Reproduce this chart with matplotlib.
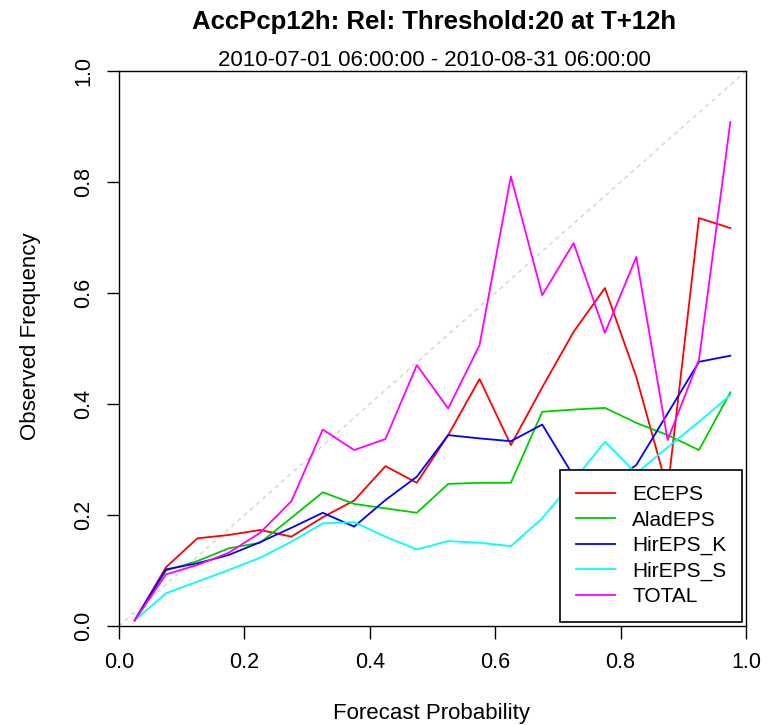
import matplotlib
matplotlib.use('Agg')
import matplotlib.pyplot as plt

# bin centres of forecast probability
prob = [0.025, 0.075, 0.125, 0.175, 0.225, 0.275, 0.325, 0.375, 0.425, 0.475,
        0.525, 0.575, 0.625, 0.675, 0.725, 0.775, 0.825, 0.875, 0.925, 0.975]

eceps = [0.010, 0.106, 0.158, 0.164, 0.173, 0.161, 0.196, 0.226, 0.288, 0.258,
         0.344, 0.445, 0.326, 0.430, 0.530, 0.609, 0.449, 0.245, 0.735, 0.717]
aladeps = [0.010, 0.100, 0.117, 0.140, 0.150, 0.195, 0.241, 0.220, 0.212, 0.204,
           0.256, 0.258, 0.258, 0.386, 0.390, 0.393, 0.366, 0.344, 0.317, 0.421]
hireps_k = [0.010, 0.102, 0.113, 0.128, 0.151, 0.177, 0.204, 0.179, 0.227, 0.269,
            0.344, 0.338, 0.333, 0.363, 0.270, 0.250, 0.290, 0.383, 0.476, 0.487]
hireps_s = [0.010, 0.059, 0.080, 0.101, 0.123, 0.152, 0.185, 0.187, 0.161, 0.138,
            0.153, 0.150, 0.144, 0.194, 0.262, 0.332, 0.275, 0.322, 0.368, 0.416]
total = [0.010, 0.093, 0.110, 0.132, 0.168, 0.225, 0.354, 0.317, 0.337, 0.470,
         0.392, 0.506, 0.810, 0.596, 0.690, 0.528, 0.665, 0.335, 0.480, 0.908]

series = [('ECEPS', eceps, '#FF0000'),
          ('AladEPS', aladeps, '#00CD00'),
          ('HirEPS_K', hireps_k, '#0000FF'),
          ('HirEPS_S', hireps_s, '#00FFFF'),
          ('TOTAL', total, '#FF00FF')]

ticks = [0.0, 0.2, 0.4, 0.6, 0.8, 1.0]
tick_labels = ['0.0', '0.2', '0.4', '0.6', '0.8', '1.0']

title = 'AccPcp12h: Rel: Threshold:20 at T+12h'
subtitle = '2010-07-01 06:00:00 - 2010-08-31 06:00:00'

fam = ['Liberation Sans', 'DejaVu Sans']

W, H = 775, 725
fig = plt.figure(figsize=(W / 100, H / 100), dpi=100)
ax = fig.add_axes([119 / W, 1 - 626 / H, 627 / W, 555 / H])

# perfect reliability diagonal
ax.plot([0, 1], [0, 1], color='#D3D3D3', lw=1.0, dashes=(3, 3))

for name, vals, col in series:
    ax.plot(prob, vals, color=col, lw=1.3, label=name)

ax.set_xlim(0, 1)
ax.set_ylim(0, 1)
ax.set_xticks(ticks)
ax.set_xticklabels(tick_labels, family=fam, fontsize=15.5)
ax.set_yticks(ticks)
ax.set_yticklabels(tick_labels, family=fam, fontsize=15.5, rotation=90,
                   va='center')
ax.tick_params(direction='out', length=9, width=1.0, color='black')
ax.tick_params(axis='x', pad=10)
ax.tick_params(axis='y', pad=9)
for sp in ax.spines.values():
    sp.set_linewidth(1.0)

fig.text(434 / W, 1 - 22 / H, title, ha='center', va='center',
         family=fam, fontweight='bold', fontsize=18.5)
fig.text(434 / W, 1 - 60 / H, subtitle, ha='center', va='center',
         family=fam, fontsize=16)
fig.text(432 / W, 1 - 713 / H, 'Forecast Probability', ha='center',
         va='center', family=fam, fontsize=16)
fig.text(31 / W, 1 - 336 / H, 'Observed Frequency', ha='center',
         va='center', rotation=90, family=fam, fontsize=16)

leg = ax.legend(loc='lower right', bbox_to_anchor=(0.994, 0.007),
                borderaxespad=0, fancybox=False, framealpha=1,
                edgecolor='black', prop={'family': fam, 'size': 15},
                handlelength=1.85, handletextpad=0.85, labelspacing=0.31,
                borderpad=0.75)
leg.get_frame().set_linewidth(1.2)

fig.savefig('out.png', dpi=100)
